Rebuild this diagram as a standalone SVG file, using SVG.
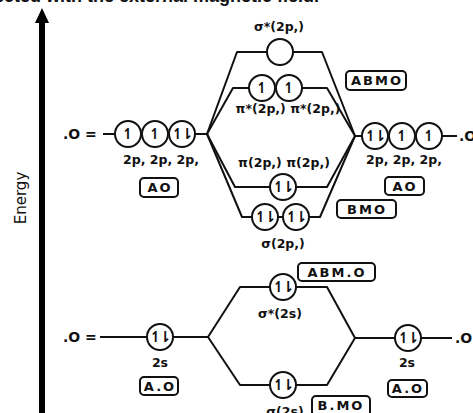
<svg xmlns="http://www.w3.org/2000/svg" width="473" height="413" viewBox="0 0 473 413">
<style>
.ln{fill:none;stroke:#111;stroke-width:2;stroke-linejoin:round}
.orb{fill:#fff;stroke:#111;stroke-width:2}
.e{font-family:"DejaVu Sans",sans-serif;font-size:15px;font-weight:bold;fill:#111;text-anchor:middle}
.p{letter-spacing:-3px}
.lb{font-family:"DejaVu Sans",sans-serif;font-size:12.5px;font-weight:bold;fill:#111;text-anchor:middle}
.bx{fill:#fff;stroke:#111;stroke-width:2}
.bt{font-family:"DejaVu Sans",sans-serif;font-size:13px;font-weight:bold;fill:#111;text-anchor:middle;letter-spacing:2px}
.at{font-family:"DejaVu Sans",sans-serif;font-size:14px;font-weight:bold;fill:#111}
</style>
<rect width="473" height="413" fill="#fff"/>
<text x="-6" y="2" font-family="Liberation Sans, sans-serif" font-size="18" font-weight="bold" fill="#111">ected with the external magnetic field.</text>
<g id="energy-axis">
<line x1="42" y1="413" x2="42" y2="20" stroke="#000" stroke-width="6"/>
<polygon points="35,23 49,23 42,8" fill="#000"/>
<text x="0" y="0" transform="translate(26,198) rotate(-90)" font-family="DejaVu Sans, sans-serif" font-size="15" fill="#111" text-anchor="middle">Energy</text>
</g>
<g id="connectors">
<path class="ln" d="M103,134 H115 M195,134 H207"/>
<path class="ln" d="M207,134 L237,52 H267 M293,52 H322 L355,136"/>
<path class="ln" d="M207,134 L233,88 H249 M302,88 H327 L355,136"/>
<path class="ln" d="M207,134 L235,187 H270 M296,187 H327 L355,136"/>
<path class="ln" d="M207,134 L242,217 H252 M278,217 H283 M309,217 H320 L355,136"/>
<path class="ln" d="M355,136 H362 M442,136 H457"/>
<path class="ln" d="M100,337 H147 M173,337 H208 L240,287 H270 M296,287 H327 L355,338 M208,337 L240,385 H270 M296,385 H327 L355,338 H395 M421,338 H452"/>
</g>
<g id="O-left-2p">
<text class="at" x="63" y="139">.O =</text>
<circle class="orb" cx="128" cy="134" r="13"/><text class="e" x="128" y="139">↿</text>
<circle class="orb" cx="155" cy="134" r="13"/><text class="e" x="155" y="139">↿</text>
<circle class="orb" cx="182" cy="134" r="13"/><text class="e p" x="181" y="139">↿⇂</text>
<text class="lb" x="161" y="164">2p, 2p, 2p,</text>
</g>
<g id="AO-left-2p"><rect class="bx" x="140" y="178" width="38" height="19" rx="4"/><text class="bt" x="160" y="192">AO</text></g>
<g id="O-right-2p">
<circle class="orb" cx="375" cy="136" r="13"/><text class="e p" x="374" y="141">↿⇂</text>
<circle class="orb" cx="402" cy="136" r="13"/><text class="e" x="402" y="141">↿</text>
<circle class="orb" cx="429" cy="136" r="13"/><text class="e" x="429" y="141">↿</text>
<text class="at" x="459" y="141">.O</text>
<text class="lb" x="404" y="164">2p, 2p, 2p,</text>
</g>
<g id="AO-right-2p"><rect class="bx" x="385" y="177" width="39" height="18" rx="4"/><text class="bt" x="405" y="191">AO</text></g>
<g id="sigma-star-2p">
<text class="lb" x="279" y="31">σ*(2p,)</text>
<circle class="orb" cx="280" cy="52" r="13"/>
</g>
<g id="pi-star-2p">
<circle class="orb" cx="262" cy="88" r="13"/><text class="e" x="262" y="93">↿</text>
<circle class="orb" cx="289" cy="88" r="13"/><text class="e" x="289" y="93">↿</text>
<text class="lb" x="288" y="113">π*(2p,) π*(2p,)</text>
</g>
<g id="ABMO-2p"><rect class="bx" x="346" y="71" width="60" height="19" rx="4"/><text class="bt" x="377" y="85">ABMO</text></g>
<g id="pi-2p">
<text class="lb" x="284" y="167">π(2p,) π(2p,)</text>
<circle class="orb" cx="283" cy="187" r="13"/><text class="e p" x="282" y="192">↿⇂</text>
</g>
<g id="sigma-2p">
<circle class="orb" cx="265" cy="217" r="13"/><text class="e p" x="264" y="222">↿⇂</text>
<circle class="orb" cx="296" cy="217" r="13"/><text class="e p" x="295" y="222">↿⇂</text>
<text class="lb" x="283" y="248">σ(2p,)</text>
</g>
<g id="BMO-2p"><rect class="bx" x="337" y="200" width="59" height="18" rx="4"/><text class="bt" x="367" y="214">BMO</text></g>
<g id="O-left-2s">
<text class="at" x="63" y="342">.O =</text>
<circle class="orb" cx="160" cy="337" r="13"/><text class="e p" x="159" y="342">↿⇂</text>
<text class="lb" x="160" y="367">2s</text>
</g>
<g id="AO-left-2s"><rect class="bx" x="140" y="377" width="38" height="18" rx="4"/><text class="bt" x="160" y="391">A.O</text></g>
<g id="sigma-star-2s">
<circle class="orb" cx="283" cy="287" r="13"/><text class="e p" x="282" y="292">↿⇂</text>
<text class="lb" x="280" y="318">σ*(2s)</text>
</g>
<g id="ABMO-2s"><rect class="bx" x="298" y="263" width="77" height="18" rx="4"/><text class="bt" x="337" y="277">ABM.O</text></g>
<g id="O-right-2s">
<circle class="orb" cx="408" cy="338" r="13"/><text class="e p" x="407" y="343">↿⇂</text>
<text class="at" x="455" y="343">.O</text>
<text class="lb" x="407" y="367">2s</text>
</g>
<g id="AO-right-2s"><rect class="bx" x="388" y="380" width="39" height="17" rx="4"/><text class="bt" x="408" y="393">A.O</text></g>
<g id="sigma-2s">
<circle class="orb" cx="283" cy="385" r="13"/><text class="e p" x="282" y="390">↿⇂</text>
<text class="lb" x="285" y="416">σ(2s)</text>
</g>
<g id="BMO-2s"><rect class="bx" x="312" y="396" width="58" height="20" rx="4"/><text class="bt" x="341" y="410">B.MO</text></g>
</svg>
